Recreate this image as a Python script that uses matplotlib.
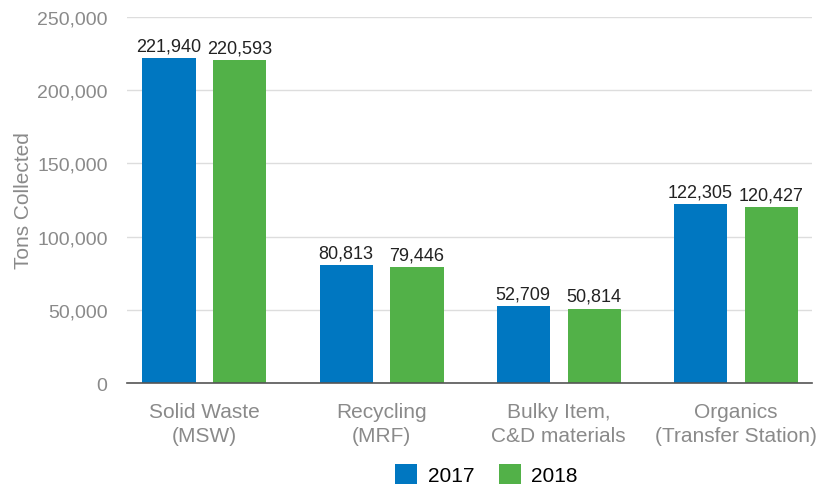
import numpy as np
import matplotlib.pyplot as plt
from matplotlib.ticker import FuncFormatter

plt.rcParams['font.family'] = ['Liberation Sans', 'DejaVu Sans']

categories = ['Solid Waste\n(MSW)', 'Recycling\n(MRF)', 'Bulky Item,\nC&D materials',
              'Organics\n(Transfer Station)']
tons_2017 = [221940, 80813, 52709, 122305]
tons_2018 = [220593, 79446, 50814, 120427]
years = ['2017', '2018']

blue = '#0077c1'
green = '#52b148'
gray = '#8a8a8a'

fig = plt.figure(figsize=(8.28, 4.89), dpi=100)
ax = fig.add_axes([0.1534, 0.2147, 0.8273, 0.7485])

x = np.arange(len(categories))
w = 0.30
off = 0.20
b1 = ax.bar(x - off, tons_2017, w, color=blue, label=years[0], zorder=3)
b2 = ax.bar(x + off, tons_2018, w, color=green, label=years[1], zorder=3)

for bars in (b1, b2):
    for b in bars:
        ax.text(b.get_x() + b.get_width() / 2, b.get_height() + 2500,
                f'{int(b.get_height()):,}', ha='center', va='bottom',
                fontsize=13, color='#222222')

ax.set_xlim(-0.437, 3.43)
ax.set_ylim(0, 250000)
ax.set_yticks(np.arange(0, 250001, 50000))
ax.yaxis.set_major_formatter(FuncFormatter(lambda v, p: f'{int(v):,}'))
ax.set_xticks(x)
ax.set_xticklabels(categories, linespacing=1.3)
ax.tick_params(axis='both', length=0, labelcolor=gray)
ax.tick_params(axis='x', pad=14, labelsize=15)
ax.tick_params(axis='y', pad=14, labelsize=14)
ax.grid(axis='y', color='#dddddd', linewidth=1, zorder=0)
for s in ['top', 'right', 'left']:
    ax.spines[s].set_visible(False)
ax.spines['bottom'].set_color('#555555')
ax.spines['bottom'].set_linewidth(1.2)
ax.spines['bottom'].set_zorder(4)

ax.set_ylabel('Tons Collected', fontsize=15, color=gray, labelpad=3)

fig.legend(handles=[b1, b2], labels=years, loc='center', ncol=2,
           bbox_to_anchor=(0.5876, 0.027), frameon=False, fontsize=15,
           handlelength=1.05, handleheight=1.05, handletextpad=0.5, columnspacing=1.2,
           borderpad=0)

fig.savefig('out.png', dpi=100)
